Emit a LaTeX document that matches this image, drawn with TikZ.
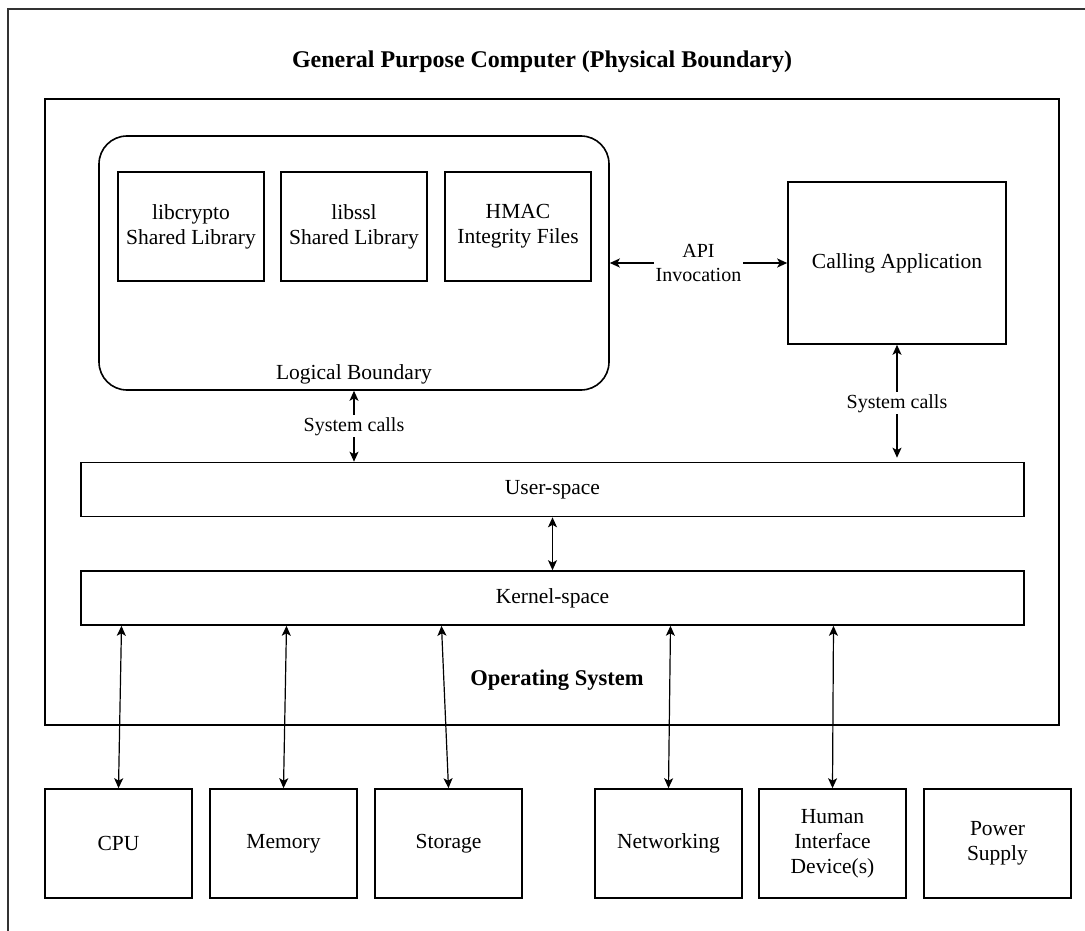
\documentclass[tikz,border=0pt]{standalone}
\usepackage{fontspec}
\setmainfont{Liberation Serif}
\usetikzlibrary{positioning,calc,arrows.meta}

\begin{document}
\begin{tikzpicture}[x=1pt,y=-1pt,
		box/.style={draw,line width=1.6pt,inner sep=0pt,align=center,font=\fontsize{21.5}{25}\selectfont},
		lib/.style={box,minimum width=146pt,minimum height=109pt},
		hw/.style={box,minimum width=147pt,minimum height=109pt},
		bar/.style={box,minimum width=943pt,minimum height=54pt},
		link/.style={{Stealth[length=10pt,width=9pt,inset=2.5pt]}-{Stealth[length=10pt,width=9pt,inset=2.5pt]},line width=1.4pt},
		tag/.style={fill=white,inner sep=2pt,align=center,font=\fontsize{20}{24}\selectfont},
		heading/.style={font=\bfseries\fontsize{22.5}{26}\selectfont}]
	\useasboundingbox (0,0) rectangle (1085,931);
	
	% physical boundary, runs off the page at right and bottom
	\draw[line width=1.5pt,black!80] (8,9) rectangle (1100,950);
	\node[heading,font=\bfseries\fontsize{24}{28}\selectfont] (title) at (542,62) {General Purpose Computer (Physical Boundary)};
	
	\node[draw,line width=1.6pt,minimum width=1014pt,minimum height=626pt] (os) at (552,412) {};
	\node[heading] (oslbl) at (557,680) {Operating System};
	
	% logical boundary
	\node[draw,line width=1.6pt,rounded corners=28pt,minimum width=510pt,minimum height=254pt] (logic) at (354,263) {};
	\node[lib] (libc) at (191,226.5) {libcrypto\\Shared Library};
	\node[lib,right=15.4pt of libc] (libssl) {libssl\\Shared Library};
	\node[lib,right=16.4pt of libssl] (hmac) {HMAC\\Integrity Files};
	\node[font=\fontsize{21.5}{25}\selectfont] (loglbl) at ([yshift=16pt]logic.south) {Logical Boundary};
	
	\node[box,minimum width=218pt,minimum height=162pt] (app) at (897,263) {Calling Application};
	
	\node[bar] (user) at (552.5,489.5) {User-space};
	\node[bar] (kern) at (552.5,598) {Kernel-space};
	
	% hardware
	\node[hw] (cpu) at (118.5,843.5) {CPU};
	\node[hw,right=16.4pt of cpu] (mem) {Memory};
	\node[hw,right=16.4pt of mem] (sto) {Storage};
	\node[hw,right=71.4pt of sto] (net) {Networking};
	\node[hw,right=15.4pt of net] (hid) {Human\\Interface\\Device(s)};
	\node[hw,right=16.4pt of hid] (psu) {Power\\Supply};
	
	\draw[link,line width=2pt] (logic.east) -- (app.west) node[midway,tag] {API\\Invocation};
	\draw[link] (logic.south) -- (logic.south |- user.north) node[midway,tag] {System calls};
	\draw[link,shorten >=4pt] (app.south) -- (app.south |- user.north) node[midway,tag] {System calls};
	\draw[link] (user.south) -- (kern.north);
	
	\foreach \b/\s in {cpu/3,mem/3,sto/-7,net/2,hid/1} {
		\draw[link,line width=1.2pt] ([xshift=\s pt]\b.north |- kern.south) -- (\b.north);
	}
\end{tikzpicture}
\end{document}
